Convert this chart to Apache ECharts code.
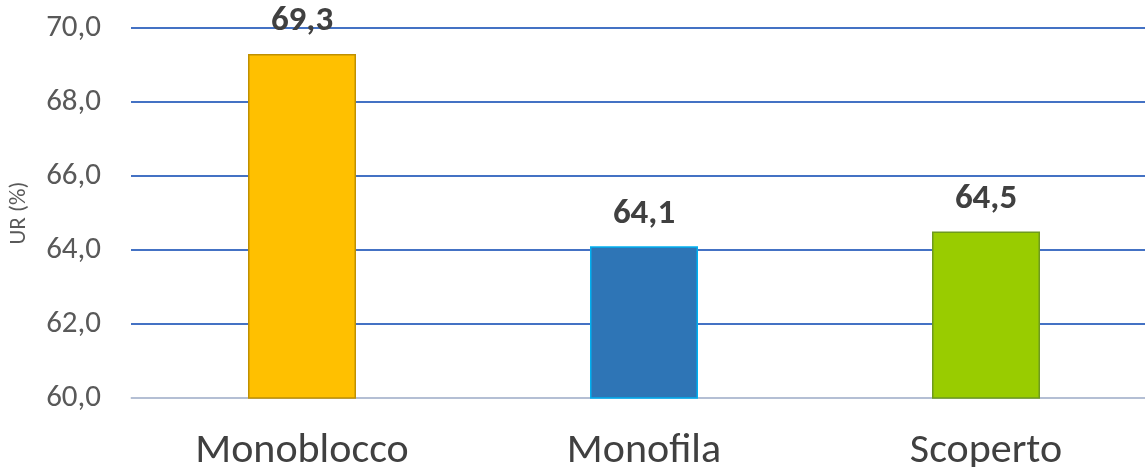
<!DOCTYPE html>
<html><head><meta charset="utf-8">
<script src="https://cdn.jsdelivr.net/npm/echarts@6/dist/echarts.min.js"></script>
<style>html,body{margin:0;padding:0;background:#fff}#c{width:1145px;height:467px}</style>
</head><body><div id="c"></div>
<script>
const categories = ["Monoblocco", "Monofila", "Scoperto"];
const values = [69.3, 64.1, 64.5];
const fillColors = ["#FFC000", "#2E75B6", "#99CC00"];
const borderColors = ["#C09000", "#00B0F0", "#6E9A1E"];
const yMin = 60, yMax = 70, yStep = 2;
const yName = "UR (%)";
const fmt = v => v.toFixed(1).replace('.', ',');
const font = "Carlito, Lato, 'Liberation Sans', sans-serif";
const chart = echarts.init(document.getElementById('c'));
chart.setOption({
  animation: false,
  grid: {left: 131, right: -12, top: 28, bottom: 69, containLabel: false, outerBoundsMode: 'none'},
  xAxis: {
    type: 'category', data: categories,
    axisLine: {lineStyle: {color: '#D9D9D9', width: 1.5}},
    axisTick: {show: false},
    axisLabel: {color: '#404040', fontSize: 42, fontFamily: font, margin: 32}
  },
  yAxis: {
    type: 'value', min: yMin, max: yMax, interval: yStep,
    name: yName, nameLocation: 'middle', nameGap: 100, nameRotate: 90,
    nameTextStyle: {color: '#595959', fontSize: 23, fontFamily: font},
    axisLine: {show: false}, axisTick: {show: false},
    axisLabel: {color: '#595959', fontSize: 31, fontFamily: font, margin: 30, formatter: v => fmt(v)},
    splitLine: {lineStyle: {color: '#4472C4', width: 2}}
  },
  series: [{
    type: 'bar', barWidth: 108,
    data: values.map((v, i) => ({value: v, itemStyle: {color: fillColors[i], borderColor: borderColors[i], borderWidth: 1.5}})),
    label: {show: true, position: 'top', distance: 15, color: '#404040', fontSize: 35, fontWeight: 'bold', fontFamily: font, formatter: p => fmt(p.value)}
  }]
});
</script></body></html>
